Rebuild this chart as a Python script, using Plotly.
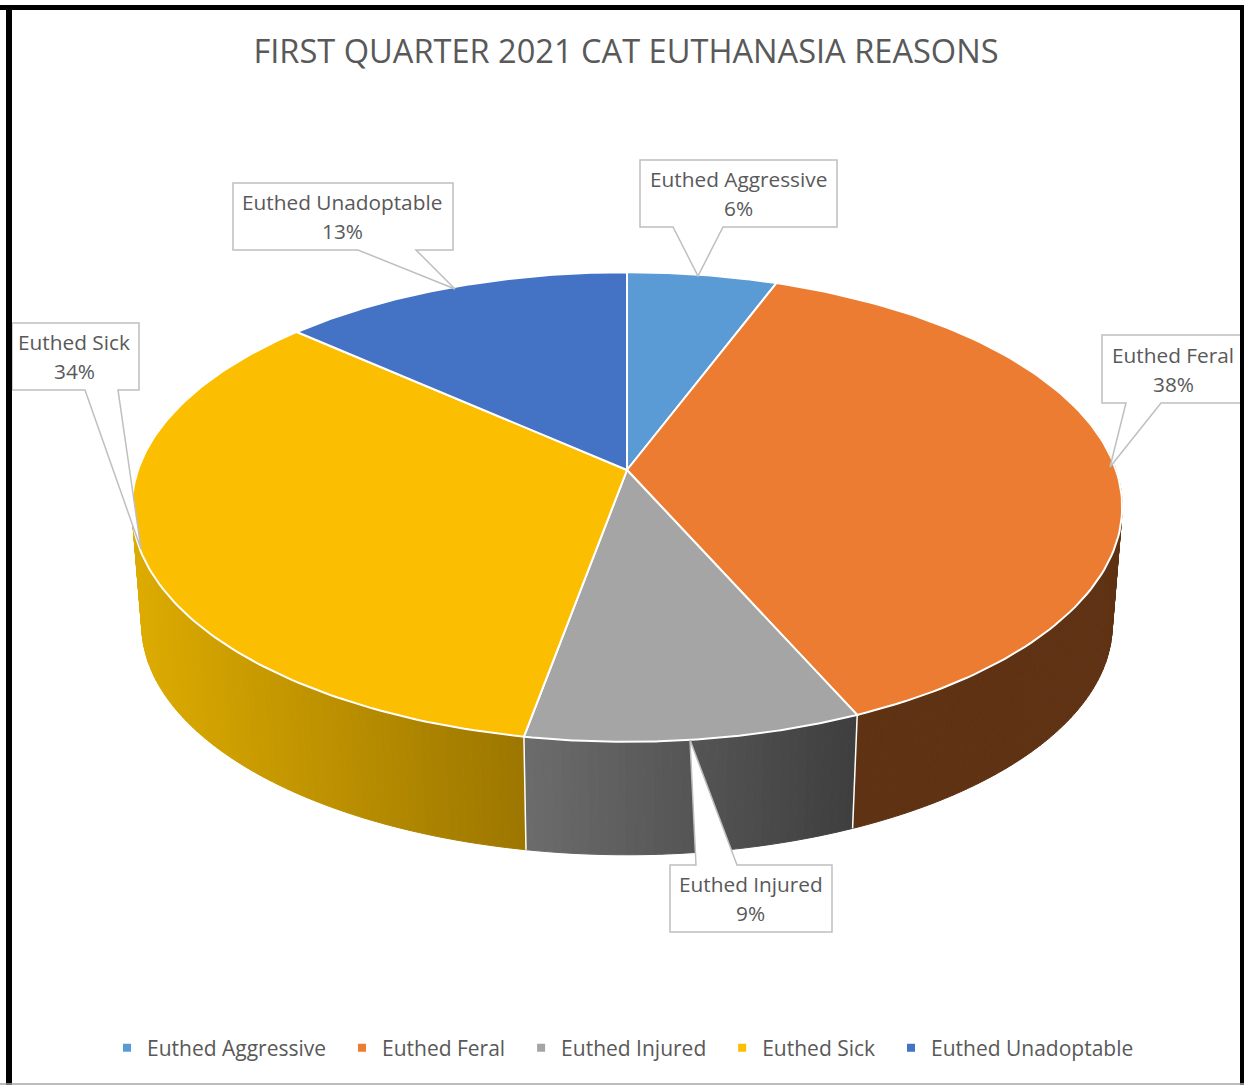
import numpy as np
import plotly.graph_objects as go

TITLE = "FIRST QUARTER 2021 CAT EUTHANASIA REASONS"
categories = ["Euthed Aggressive", "Euthed Feral", "Euthed Injured", "Euthed Sick", "Euthed Unadoptable"]
values = [5.7, 37.7, 9.45, 33.75, 13.4]
colors = ["#5B9BD5", "#EB7C31", "#A5A5A5", "#FBBE00", "#4472C4"]
FONT = "Open Sans"
TEXT = "#595959"
LABEL_SIZE = 20.8
LEGEND_SIZE = 21

# Perspective of the pie (pixels on the 1244x1085 canvas)
CX, CY, A, B, K = 627.0, 470.0, 229.0, 489.0, 0.1575
DEPTH, SCALE = 118.4, 0.98
# wall shading per slice: left colour, right colour
wall_shades = {
    "Euthed Feral": ("#5F3214", "#5F3214"),
    "Euthed Injured": ("#6C6C6C", "#3E3E3E"),
    "Euthed Sick": ("#DDAB00", "#9C7600"),
}


def project(frac, lower=False):
    theta = np.pi / 2 - 2 * np.pi * np.asarray(frac)
    w = 1 + K * np.sin(theta)
    u = B * np.cos(theta) / w
    v = A * np.sin(theta) / w
    if lower:
        return CX + SCALE * u, CY + DEPTH - SCALE * v
    return CX + u, CY - v


def mix(c1, c2, t):
    a = [int(c1[i:i + 2], 16) for i in (1, 3, 5)]
    b = [int(c2[i:i + 2], 16) for i in (1, 3, 5)]
    return "rgb(%d,%d,%d)" % tuple(round(p + (q - p) * t) for p, q in zip(a, b))


total = sum(values)
edges = np.concatenate([[0], np.cumsum(values)]) / total
fig = go.Figure()

# side wall, visible only around the front of the pie
WALL_FROM, WALL_TO = 0.205, 0.795
for i, name in enumerate(categories):
    if name not in wall_shades:
        continue
    lo, hi = max(edges[i], WALL_FROM), min(edges[i + 1], WALL_TO)
    left_c, right_c = wall_shades[name]
    n = max(4, int((hi - lo) * 400))
    steps = np.linspace(lo, hi, n + 1)
    xs_all = project(steps)[0]
    xmin, xmax = xs_all.min(), xs_all.max()
    for j in range(n):
        seg = np.linspace(steps[j], steps[j + 1], 4)
        xt, yt = project(seg)
        xb, yb = project(seg[::-1], lower=True)
        t = ((xt.mean() - xmin) / (xmax - xmin)) if xmax > xmin else 0
        col = mix(left_c, right_c, t)
        fig.add_trace(go.Scatter(
            x=np.r_[xt, xb, xt[0]], y=np.r_[yt, yb, yt[0]], mode="lines", fill="toself",
            fillcolor=col, line=dict(color=col, width=1), hoverinfo="skip", showlegend=False))

# white seams between wall pieces
for f in (edges[2], edges[3]):
    x0, y0 = project(f)
    x1, y1 = project(f, lower=True)
    fig.add_trace(go.Scatter(x=[x0, x1], y=[y0, y1], mode="lines",
                             line=dict(color="white", width=1.5), hoverinfo="skip", showlegend=False))

# top faces
for i, name in enumerate(categories):
    seg = np.linspace(edges[i], edges[i + 1], 120)
    xt, yt = project(seg)
    fig.add_trace(go.Scatter(
        x=np.r_[CX, xt, CX], y=np.r_[CY, yt, CY], mode="lines", fill="toself",
        fillcolor=colors[i], line=dict(color="white", width=2), name=name, showlegend=False,
        hovertemplate=name + ": %d%%<extra></extra>" % round(values[i])))

# legend keys
for name, col in zip(categories, colors):
    fig.add_trace(go.Scatter(x=[None], y=[None], mode="markers", name=name + "\u00a0\u00a0",
                             marker=dict(symbol="square", size=8, color=col)))

# data-label callouts: outline path, centre x, y of first and second text line
callouts = {
    "Euthed Aggressive": ("M640,160 H837 V227 H723 L698,276 L673,227 H640 Z", 738.5, 179, 208),
    "Euthed Feral": ("M1102,335 H1250 V403 H1161 L1110,467 L1126,403 H1102 Z", 1173, 355, 384),
    "Euthed Injured": ("M670,865 H696 L690,740 L737,865 H832 V932 H670 Z", 750.5, 884, 913),
    "Euthed Sick": ("M12,323 H139 V390 H118 L141,549 L85,390 H12 Z", 74, 342, 371),
    "Euthed Unadoptable": ("M233,183 H453 V250 H416 L455,289 L358,250 H233 Z", 342, 202, 231),
}
shapes, annotations = [], []
for name, val in zip(categories, values):
    path, lx, y1, y2 = callouts[name]
    shapes.append(dict(type="path", path=path, xref="x", yref="y", layer="above",
                       fillcolor="white", line=dict(color="#BFBFBF", width=1.5)))
    for y, txt in ((y1, name), (y2, "%d%%" % round(val))):
        annotations.append(dict(x=lx, y=y, xref="x", yref="y", showarrow=False, text=txt,
                                font=dict(family=FONT, size=LABEL_SIZE, color=TEXT)))

# picture frame
for x0, y0, x1, y1 in [(0, 5, 1244, 10), (6, 5, 12, 1085), (1240, 5, 1244, 1085)]:
    shapes.append(dict(type="rect", x0=x0, y0=y0, x1=x1, y1=y1, xref="x", yref="y", layer="above",
                       fillcolor="black", line=dict(width=0)))
shapes.append(dict(type="line", x0=0, y0=1084, x1=1244, y1=1084, xref="x", yref="y", layer="above",
                   line=dict(color="#A6A6A6", width=1.5)))

fig.update_layout(
    width=1244, height=1085, margin=dict(l=0, r=0, t=0, b=0),
    paper_bgcolor="white", plot_bgcolor="white",
    title=dict(text=TITLE, x=626 / 1244, y=1 - 52 / 1085, xanchor="center", yanchor="middle",
               font=dict(family=FONT, size=32.6, color=TEXT)),
    xaxis=dict(range=[0, 1244], visible=False, fixedrange=True),
    yaxis=dict(range=[1085, 0], visible=False, fixedrange=True),
    legend=dict(orientation="h", x=107 / 1244, xanchor="left", y=1 - 1048 / 1085, yanchor="middle",
                font=dict(family=FONT, size=LEGEND_SIZE, color=TEXT), bgcolor="rgba(0,0,0,0)"),
    shapes=shapes, annotations=annotations,
)
fig.write_html("out.html", config={"displayModeBar": False},
               post_script="document.body.style.margin='0';")
